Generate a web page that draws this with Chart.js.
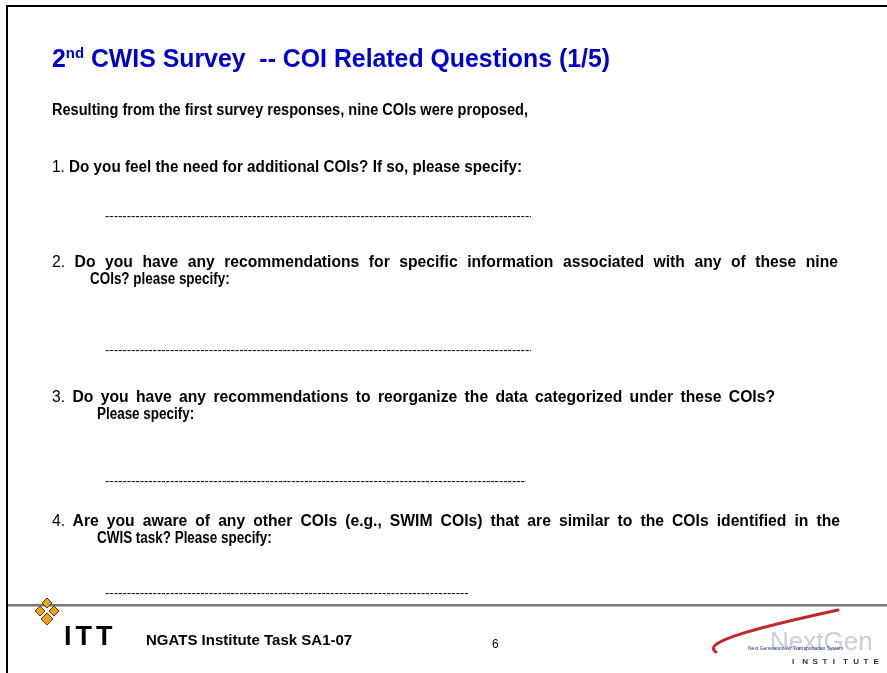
<!DOCTYPE html>
<html>
<head>
<meta charset="utf-8">
<script src="https://cdn.jsdelivr.net/npm/chart.js@4"></script>
<style>
  html, body { margin: 0; padding: 0; background: #fff; }
  #slide { position: relative; width: 887px; height: 673px; overflow: hidden; font-family: "Liberation Sans", Arial, sans-serif; }
  #art { position: absolute; left: 0; top: 0; }
  .t { position: absolute; white-space: pre; color: #000; transform-origin: left center; }
  .title { font-size: 25px; line-height: 28px; font-weight: bold; color: #0000cc; }
  .title sup { font-size: 15px; vertical-align: 9px; line-height: 0; }
  .body { font-size: 16px; line-height: 18px; font-weight: bold; }
  .num { font-weight: normal; }
  .dash { font-size: 13px; line-height: 16px; overflow: hidden; }
</style>
</head>
<body>
<div id="slide">
  <canvas id="art" width="887" height="673"></canvas>
  <div id="texts"></div>
</div>
<script>
// slide content
const titleMain = ['2', 'nd', ' CWIS Survey  -- COI Related Questions (1/5)'];
const intro = 'Resulting from the first survey responses, nine COIs were proposed,';
const questions = [
  ['Do you feel the need for additional COIs? If so, please specify:'],
  ['Do you have any recommendations for specific information associated with any of these nine', 'COIs? please specify:'],
  ['Do you have any recommendations to reorganize the data categorized under these COIs?', 'Please specify:'],
  ['Are you aware of any other COIs (e.g., SWIM COIs) that are similar to the COIs identified in the', 'CWIS task? Please specify:']
];
const footerTask = 'NGATS Institute Task SA1-07';
const pageNumber = '6';

// layout (not data)
const qTops = [158, 253, 388, 512];
const qRight = [522, 838, 775, 840];
const contLeft = [90, 97, 97];
const contRight = [222, 187, 265];
const dashTops = [208, 342, 473, 585];
const dashWidths = [426, 426, 421, 364];

const texts = document.getElementById('texts');
function addDiv(cls, left, top, html) {
  const d = document.createElement('div');
  d.className = 't ' + cls;
  d.style.left = left + 'px';
  d.style.top = top + 'px';
  d.innerHTML = html;
  texts.appendChild(d);
  return d;
}
// fit a line toward its right edge: mild horizontal scaling, rest taken up by word gaps
function bodyLine(left, top, html, right) {
  const el = addDiv('body', left, top, html);
  const w = el.getBoundingClientRect().width;
  const want = right - left;
  const s = Math.min(0.98, Math.max(0.84, want / w));
  const gaps = (el.textContent.match(/ /g) || []).length;
  const extra = want / s - w;
  if (gaps && extra > 0) el.style.wordSpacing = (extra / gaps) + 'px';
  el.style.transform = 'scaleX(' + s.toFixed(4) + ')';
  return el;
}

const title = addDiv('title', 52, 44, titleMain[0] + '<sup>' + titleMain[1] + '</sup>' + titleMain[2]);
title.style.transform = 'scaleX(' + (558 / title.getBoundingClientRect().width).toFixed(4) + ')';
bodyLine(52, 101, intro, 528);
questions.forEach((q, i) => {
  bodyLine(52, qTops[i], '<span class="num">' + (i + 1) + '.</span> ' + q[0], qRight[i]);
  if (q[1]) bodyLine(contLeft[i - 1], qTops[i] + 17, q[1], contRight[i - 1]);
  const d = addDiv('dash', 105, dashTops[i], '-'.repeat(140));
  d.style.width = dashWidths[i] + 'px';
});
const ft = addDiv('body', 146, 631, footerTask);
ft.style.fontSize = '15px';
const pn = addDiv('', 492, 637, pageNumber);
pn.style.fontSize = '12px';
const itt = addDiv('', 64, 621, 'ITT');
itt.style.fontSize = '27px';
itt.style.fontWeight = 'bold';
itt.style.letterSpacing = '4px';

// frame, separator and logos drawn on the chart canvas
const slideArt = {
  id: 'slideArt',
  afterDraw(chart) {
    const ctx = chart.ctx;
    ctx.save();
    ctx.fillStyle = '#000';
    ctx.fillRect(6, 5, 881, 2);
    ctx.fillRect(6, 5, 2, 668);
    ctx.fillStyle = '#777';
    ctx.fillRect(8, 604, 879, 2);
    ctx.fillStyle = '#bbb';
    ctx.fillRect(8, 606, 879, 1);

    // ITT emblem
    ctx.fillStyle = '#f0a020';
    ctx.strokeStyle = '#5a3a10';
    ctx.lineWidth = 1;
    const diamonds = [[47, 603, 5], [40, 611, 5], [54, 611, 5], [47, 619, 6]];
    diamonds.forEach(([x, y, r]) => {
      ctx.beginPath();
      ctx.moveTo(x, y - r);
      ctx.lineTo(x + r, y);
      ctx.lineTo(x, y + r);
      ctx.lineTo(x - r, y);
      ctx.closePath();
      ctx.fill();
      ctx.stroke();
    });

    // NextGen swoosh
    ctx.strokeStyle = '#c0282a';
    ctx.lineWidth = 3;
    ctx.lineCap = 'round';
    ctx.beginPath();
    ctx.moveTo(838, 610);
    ctx.bezierCurveTo(760, 627, 700, 642, 716, 652);
    ctx.stroke();
    ctx.fillStyle = '#c9cfdb';
    ctx.font = '26px "Liberation Sans", Arial, sans-serif';
    ctx.fillText('NextGen', 770, 650);
    ctx.fillStyle = '#2d3a73';
    ctx.font = '5px "Liberation Sans", Arial, sans-serif';
    ctx.fillText('Next Generation Air Transportation System', 748, 650);
    ctx.fillStyle = '#333';
    ctx.font = 'bold 8px "Liberation Sans", Arial, sans-serif';
    const letters = 'INSTITUTE';
    for (let i = 0; i < letters.length; i++) ctx.fillText(letters[i], 792 + i * 10.2, 664);
    ctx.restore();
  }
};

new Chart(document.getElementById('art'), {
  type: 'scatter',
  data: { datasets: [] },
  options: {
    responsive: false,
    animation: false,
    events: [],
    layout: { padding: 0 },
    plugins: { legend: { display: false }, tooltip: { enabled: false } },
    scales: { x: { display: false }, y: { display: false } }
  },
  plugins: [slideArt]
});
</script>
</body>
</html>
